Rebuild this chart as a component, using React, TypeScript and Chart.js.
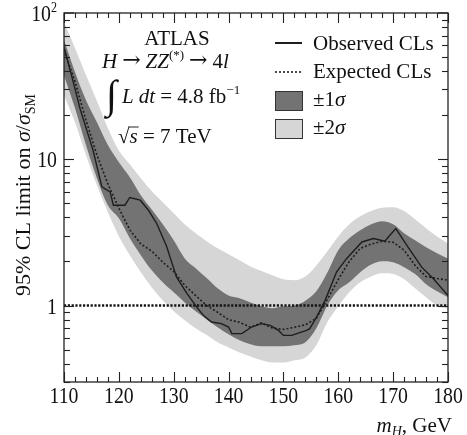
import React, { useEffect, useRef } from "react";
import { Chart, registerables } from "chart.js";

Chart.register(...registerables);

// Higgs mass grid (GeV) for the expected limit and the bands
const massGrid = [
  110, 112, 114, 116, 118, 120, 122, 124, 126, 128, 130, 132, 134, 136, 138, 140, 142, 144,
  146, 148, 150, 152, 154, 156, 158, 160, 162, 164, 166, 168, 170, 172, 174, 176, 178, 180,
];

const expectedLimit = [
  56, 34.0, 18.5, 10.7, 6.78, 4.63, 3.29, 2.64, 2.35, 1.98, 1.71, 1.375, 1.17, 1.0, 0.9, 0.8, 0.768, 0.71,
  0.76, 0.7, 0.687, 0.71, 0.738, 0.817, 1.1, 1.51, 2.0, 2.46, 2.63, 2.75, 2.71, 2.39, 1.88, 1.58, 1.53, 1.49,
];

const band1Upper = [
  65.4, 39.5, 25.4, 17.9, 12.5, 9.55, 7.54, 5.68, 4.53, 3.59, 2.79, 2.1, 1.8, 1.54, 1.31, 1.17, 1.12, 1.05,
  0.987, 0.957, 0.987, 1.0, 1.08, 1.25, 1.68, 2.39, 2.88, 3.27, 3.59, 3.77, 3.59, 3.12, 2.79, 2.5, 2.28, 2.1,
];

const band1Lower = [
  37.6, 22.4, 12.5, 7.42, 4.85, 3.95, 2.88, 2.21, 1.74, 1.44, 1.23, 1.05, 0.913, 0.804, 0.71, 0.635, 0.578, 0.543,
  0.526, 0.526, 0.526, 0.534, 0.56, 0.698, 1.0, 1.27, 1.44, 1.69, 1.91, 2.01, 1.98, 1.83, 1.64, 1.4, 1.25, 1.14,
];

const band2Upper = [
  86.8, 57.6, 37.7, 25.0, 16.3, 11.5, 9.26, 7.42, 6.05, 5.09, 4.28, 3.59, 3.12, 2.75, 2.46, 2.24, 2.04, 1.85,
  1.72, 1.61, 1.51, 1.49, 1.58, 1.88, 2.35, 2.97, 3.59, 4.07, 4.42, 4.66, 4.7, 4.42, 3.89, 3.38, 2.97, 2.66,
];

const band2Lower = [
  27.4, 17.9, 10.7, 6.65, 4.34, 2.98, 2.21, 1.69, 1.33, 1.085, 0.913, 0.792, 0.698, 0.628, 0.56, 0.517, 0.478, 0.449,
  0.422, 0.408, 0.408, 0.422, 0.442, 0.534, 0.767, 0.987, 1.23, 1.44, 1.58, 1.66, 1.64, 1.51, 1.31, 1.14, 1.0, 0.95,
];

// Observed limit (irregular mass points)
const observedMass = [
  110, 111.5, 113, 115.3, 116.9, 118.4, 119, 121.1, 122, 123.9, 125.4, 126.9, 128.7, 129.3, 130.5, 132.4,
  134.2, 135.4, 136.9, 138.7, 140, 140.6, 142.4, 144.2, 146, 147.6, 149.1, 150, 151.5, 154.2, 154.8, 156.2,
  157.6, 159.7, 161.5, 164.3, 166.4, 168.5, 169.4, 170.5, 172.5, 175.2, 177.3, 180,
];
const observedLimit = [
  58.5, 35.9, 21.7, 11.5, 6.47, 5.98, 4.85, 4.85, 5.48, 5.25, 4.48, 3.64, 2.54, 2.16, 1.57, 1.21,
  0.976, 0.857, 0.771, 0.752, 0.713, 0.642, 0.642, 0.713, 0.752, 0.732, 0.676, 0.625, 0.625, 0.676, 0.695, 0.857,
  1.085, 1.7, 2.09, 2.72, 2.87, 2.75, 3.02, 3.36, 2.58, 1.83, 1.53, 1.17,
];

const referenceLine = [1, 1];
const referenceMass = [110, 180];

const xMajorTicks = [110, 120, 130, 140, 150, 160, 170, 180];
const xMinorStep = 2;
const yDecades = [0.1, 1, 10];
const yLabelTicks = [1, 10, 100];

const SERIF = '"Liberation Serif", "DejaVu Serif", serif';
const ARROW_FONT = '"DejaVu Serif", serif';
const LIGHT = "#d6d6d6";
const DARK = "#737373";
const INK = "#1e1e1e";

type Run = { t: string; size: number; italic?: boolean; dy?: number; family?: string; gap?: number };

function font(size: number, italic?: boolean, family?: string) {
  return `${italic ? "italic " : ""}${size}px ${family || SERIF}`;
}

function measureRuns(ctx: CanvasRenderingContext2D, runs: Run[]) {
  let w = 0;
  for (const r of runs) {
    ctx.font = font(r.size, r.italic, r.family);
    w += ctx.measureText(r.t).width + (r.gap || 0);
  }
  return w;
}

function drawRuns(ctx: CanvasRenderingContext2D, x: number, y: number, runs: Run[]) {
  let cx = x;
  for (const r of runs) {
    ctx.font = font(r.size, r.italic, r.family);
    ctx.fillText(r.t, cx, y + (r.dy || 0));
    cx += ctx.measureText(r.t).width + (r.gap || 0);
  }
  return cx;
}

function line(ctx: CanvasRenderingContext2D, x1: number, y1: number, x2: number, y2: number) {
  ctx.beginPath();
  ctx.moveTo(x1, y1);
  ctx.lineTo(x2, y2);
  ctx.stroke();
}

const toXY = (xs: number[], ys: number[]) => xs.map((x, i) => ({ x, y: ys[i] }));

export default function App() {
  const ref = useRef<HTMLCanvasElement>(null);

  useEffect(() => {
    if (!ref.current) return;

    const hepPlugin = {
      id: "hepDecor",
      afterDraw(chart: any) {
        const ctx: CanvasRenderingContext2D = chart.ctx;
        const { left, right, top, bottom } = chart.chartArea;
        const xs = chart.scales.x;
        const ys = chart.scales.y;
        ctx.save();
        ctx.strokeStyle = "#222";
        ctx.fillStyle = "#111";
        ctx.lineWidth = 1.3;
        ctx.setLineDash([]);
        ctx.strokeRect(left, top, right - left, bottom - top);

        // x ticks (inward, bottom and top)
        ctx.lineWidth = 1.1;
        for (let m = xs.min; m <= xs.max + 1e-9; m += xMinorStep) {
          const px = Math.round(xs.getPixelForValue(m)) + 0.5;
          const len = xMajorTicks.includes(m) ? 10 : 5;
          line(ctx, px, bottom, px, bottom - len);
          line(ctx, px, top, px, top + len);
        }
        // y ticks (inward, left and right)
        for (const d of yDecades) {
          for (let k = 1; k <= 9; k++) {
            const v = k * d;
            if (v < ys.min - 1e-9 || v > ys.max + 1e-9) continue;
            const py = Math.round(ys.getPixelForValue(v)) + 0.5;
            const len = k === 1 ? 10 : 6;
            line(ctx, left, py, left + len, py);
            line(ctx, right, py, right - len, py);
          }
        }
        if (ys.max >= 100) {
          const py = ys.getPixelForValue(100);
          line(ctx, left, py, left + 10, py);
          line(ctx, right, py, right - 10, py);
        }

        // x tick labels
        ctx.fillStyle = "#111";
        ctx.textBaseline = "alphabetic";
        const hs = 0.86;
        for (const m of xMajorTicks) {
          const px = xs.getPixelForValue(m);
          ctx.font = font(23);
          const w = ctx.measureText(String(m)).width * hs;
          ctx.save();
          ctx.translate(px - w / 2, 403);
          ctx.scale(hs, 1);
          ctx.fillText(String(m), 0, 0);
          ctx.restore();
        }
        // y tick labels
        for (const v of yLabelTicks) {
          const py = ys.getPixelForValue(v);
          ctx.save();
          if (v === 100) {
            ctx.font = font(23);
            const w = ctx.measureText("10").width * hs;
            ctx.translate(57 - 6 - w, py + 8);
            ctx.scale(hs, 1);
            ctx.fillText("10", 0, 0);
            ctx.font = font(14);
            ctx.fillText("2", w / hs, -9);
          } else {
            const s = String(v);
            ctx.font = font(23);
            const w = ctx.measureText(s).width * hs;
            ctx.translate(57 - w, py + 8);
            ctx.scale(hs, 1);
            ctx.fillText(s, 0, 0);
          }
          ctx.restore();
        }

        // x axis title
        const xt: Run[] = [
          { t: "m", size: 21, italic: true },
          { t: "H", size: 14, italic: true, dy: 4 },
          { t: ", GeV", size: 21 },
        ];
        const xtw = measureRuns(ctx, xt);
        drawRuns(ctx, 452 - xtw, 432, xt);

        // y axis title (rotated)
        const yt: Run[] = [
          { t: "95% CL limit on ", size: 22 },
          { t: "σ", size: 22, italic: true },
          { t: "/", size: 22 },
          { t: "σ", size: 22, italic: true },
          { t: "SM", size: 14, dy: 5 },
        ];
        const ytw = measureRuns(ctx, yt);
        ctx.save();
        ctx.translate(30, 195);
        ctx.rotate(-Math.PI / 2);
        drawRuns(ctx, -ytw / 2, 0, yt);
        ctx.restore();

        // ATLAS label block
        ctx.font = font(21);
        const aw = ctx.measureText("ATLAS").width;
        ctx.fillText("ATLAS", 177 - aw / 2, 45);

        drawRuns(ctx, 102, 68, [
          { t: "H", size: 21, italic: true, gap: 5 },
          { t: "→", size: 22, family: ARROW_FONT, dy: -1, gap: 5 },
          { t: "ZZ", size: 21, italic: true },
          { t: "(*)", size: 13, dy: -9, gap: 5 },
          { t: "→", size: 22, family: ARROW_FONT, dy: -1, gap: 5 },
          { t: "4", size: 21 },
          { t: "l", size: 21, italic: true },
        ]);

        ctx.font = font(40, true);
        ctx.fillText("∫", 106, 108);
        drawRuns(ctx, 122, 103, [
          { t: "L", size: 21, italic: true },
          { t: " ", size: 20 },
          { t: "dt", size: 21, italic: true },
          { t: " = 4.8 fb", size: 21 },
          { t: "−1", size: 13, dy: -9 },
        ]);

        ctx.font = font(21);
        ctx.fillText("√", 118, 143);
        const rw = ctx.measureText("√").width;
        ctx.font = font(21, true);
        const sw = ctx.measureText("s").width;
        ctx.fillText("s", 118 + rw, 143);
        ctx.lineWidth = 1;
        line(ctx, 118 + rw - 1, 127, 118 + rw + sw + 1, 127);
        ctx.font = font(21);
        ctx.fillText(" = 7 TeV", 118 + rw + sw, 143);

        // legend
        ctx.strokeStyle = INK;
        ctx.lineWidth = 2;
        line(ctx, 275, 43, 302, 43);
        ctx.lineWidth = 1.6;
        ctx.setLineDash([2, 2]);
        line(ctx, 275, 72, 302, 72);
        ctx.setLineDash([]);
        ctx.lineWidth = 1;
        ctx.strokeStyle = "#333";
        ctx.fillStyle = DARK;
        ctx.fillRect(275.5, 91.5, 27, 19);
        ctx.strokeRect(275.5, 91.5, 27, 19);
        ctx.fillStyle = LIGHT;
        ctx.fillRect(275.5, 119.5, 27, 19);
        ctx.strokeRect(275.5, 119.5, 27, 19);
        ctx.fillStyle = "#111";
        drawRuns(ctx, 313, 50, [{ t: "Observed CLs", size: 21 }]);
        drawRuns(ctx, 313, 78, [{ t: "Expected CLs", size: 21 }]);
        drawRuns(ctx, 313, 106, [
          { t: "±1", size: 21 },
          { t: "σ", size: 21, italic: true },
        ]);
        drawRuns(ctx, 313, 134, [
          { t: "±2", size: 21 },
          { t: "σ", size: 21, italic: true },
        ]);
        ctx.restore();
      },
    };

    const clear = "rgba(0,0,0,0)";
    const bandCommon = {
      pointRadius: 0,
      borderColor: clear,
      borderWidth: 0,
      cubicInterpolationMode: "monotone" as const,
    };

    const chart = new Chart(ref.current, {
      type: "line",
      data: {
        datasets: [
          { ...bandCommon, label: "±2σ", data: toXY(massGrid, band2Upper), backgroundColor: LIGHT, fill: "+1", order: 5 },
          { ...bandCommon, label: "±2σ low", data: toXY(massGrid, band2Lower), fill: false, order: 5 },
          { ...bandCommon, label: "±1σ", data: toXY(massGrid, band1Upper), backgroundColor: DARK, fill: "+1", order: 4 },
          { ...bandCommon, label: "±1σ low", data: toXY(massGrid, band1Lower), fill: false, order: 4 },
          {
            label: "SM",
            data: toXY(referenceMass, referenceLine),
            borderColor: "#151515",
            borderWidth: 2.3,
            borderDash: [2.2, 1.6],
            pointRadius: 0,
            fill: false,
            order: 3,
          },
          {
            label: "Expected CLs",
            data: toXY(massGrid, expectedLimit),
            borderColor: INK,
            borderWidth: 1.6,
            borderDash: [2, 2],
            pointRadius: 0,
            fill: false,
            order: 2,
          },
          {
            label: "Observed CLs",
            data: toXY(observedMass, observedLimit),
            borderColor: INK,
            borderWidth: 1.4,
            pointRadius: 0,
            fill: false,
            order: 1,
          },
        ],
      },
      options: {
        responsive: false,
        animation: false,
        events: [],
        layout: { padding: { left: 64, right: 19, top: 13, bottom: 53 } },
        scales: {
          x: { type: "linear", min: 110, max: 180, display: false },
          y: { type: "logarithmic", min: 0.3, max: 100, display: false },
        },
        plugins: {
          legend: { display: false },
          tooltip: { enabled: false },
        },
      },
      plugins: [hepPlugin],
    });
    return () => chart.destroy();
  }, []);

  return (
    <div style={{ position: "fixed", left: 0, top: 0, width: 467, height: 435, background: "#fff" }}>
      <canvas ref={ref} width={467} height={435} style={{ display: "block" }} />
    </div>
  );
}
